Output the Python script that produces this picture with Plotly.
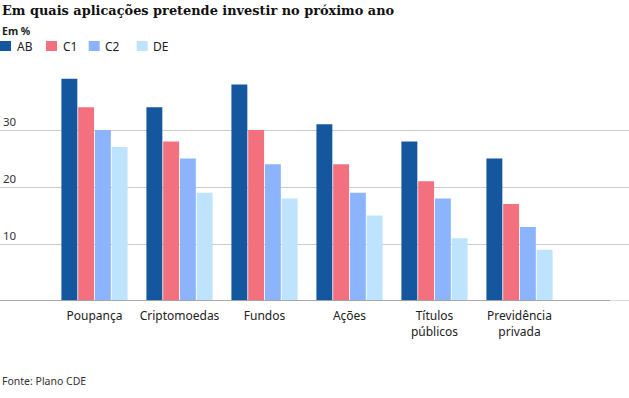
import plotly.graph_objects as go

categories = ["Poupança", "Criptomoedas", "Fundos", "Ações", "Títulos<br>públicos", "Previdência<br>privada"]
series_names = ["AB", "C1", "C2", "DE"]
ab = [39, 34, 38, 31, 28, 25]
c1 = [34, 28, 30, 24, 21, 17]
c2 = [30, 25, 24, 19, 18, 13]
de = [27, 19, 18, 15, 11, 9]
y_ticks = [10, 20, 30]

colors = ["#15579f", "#f3707f", "#8cb4fc", "#bee4fd"]
W, H = 629, 398
TOP, BOTTOM_Y = 70, 301
px_per_unit = 5.7
plot_h = BOTTOM_Y - TOP


def py(pixel_y):
    return (BOTTOM_Y - pixel_y) / plot_h


def px(pixel_x):
    return pixel_x / W


fig = go.Figure()
for name, vals, col in zip(series_names, [ab, c1, c2, de], colors):
    fig.add_trace(go.Bar(x=categories, y=vals, name=name, showlegend=False,
                         marker=dict(color=col, line=dict(width=0))))

y_top = plot_h / px_per_unit
slot = 85.0
first_center = 94.5
x_left = -first_center / slot
x_right = x_left + W / slot

font_sans = "Noto Sans"

annotations = [
    dict(text="<b>Em quais aplicações pretende investir no próximo ano</b>", x=0, y=py(10.5),
         xref="paper", yref="paper", xanchor="left", yanchor="middle", showarrow=False,
         font=dict(family="DejaVu Serif", size=12.9, color="#111111")),
    dict(text="<b>Em %</b>", x=0, y=py(31), xref="paper", yref="paper",
         xanchor="left", yanchor="middle", showarrow=False, font=dict(size=10.5, color="#222222")),
    dict(text="Fonte: Plano CDE", x=0, y=py(381), xref="paper", yref="paper",
         xanchor="left", yanchor="middle", showarrow=False, font=dict(size=10.5, color="#333333")),
]
shapes = [
    dict(type="line", xref="paper", yref="y", x0=0, x1=1, y0=0, y1=0, line=dict(color="#d0d0d0", width=1.5)),
    dict(type="line", xref="paper", yref="y", x0=0, x1=px(610), y0=0, y1=0, line=dict(color="#999999", width=1.5)),
]

# custom legend
legend_x = [0, 46, 88.7, 136.7]
for name, col, lx in zip(series_names, colors, legend_x):
    shapes.append(dict(type="rect", xref="paper", yref="paper", x0=px(lx), x1=px(lx + 11),
                       y0=py(51), y1=py(41), fillcolor=col, line=dict(width=0)))
    annotations.append(dict(text=name, x=px(lx + 14.5), y=py(46.5), xref="paper", yref="paper",
                            xanchor="left", yanchor="middle", showarrow=False,
                            font=dict(size=12, color="#222222")))

fig.update_layout(
    width=W, height=H,
    margin=dict(l=0, r=0, t=TOP, b=H - BOTTOM_Y, pad=0),
    paper_bgcolor="white", plot_bgcolor="white",
    barmode="group", bargap=18 / 85, bargroupgap=0.05,
    font=dict(family=font_sans, color="#333333", size=12),
    showlegend=False,
    xaxis=dict(type="category", range=[x_left, x_right], showgrid=False, ticks="", showline=False,
               tickfont=dict(size=12, color="#222222"), ticklabelstandoff=6, fixedrange=True),
    yaxis=dict(range=[0, y_top], tickvals=y_ticks, ticktext=[str(v) for v in y_ticks],
               showgrid=True, gridcolor="#cccccc", gridwidth=1, zeroline=False,
               ticklabelposition="inside top", ticks="", showline=False,
               tickfont=dict(size=11.5, color="#333333")),
    annotations=annotations,
    shapes=shapes,
)

fig.write_html("out.html", config={"displayModeBar": False},
               post_script="document.body.style.margin='0';")
